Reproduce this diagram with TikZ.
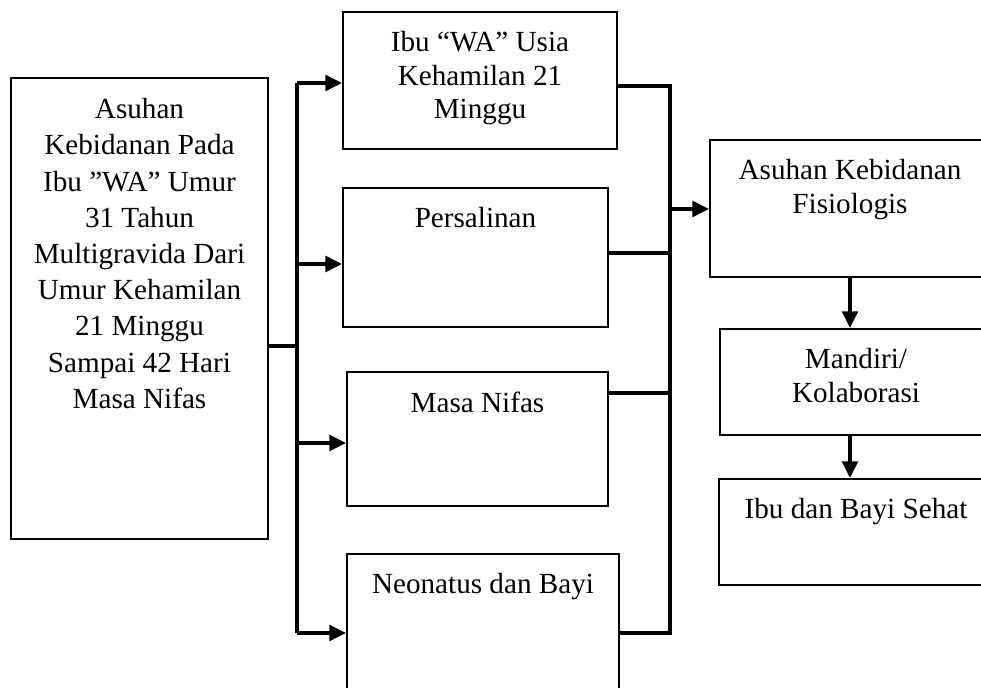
\documentclass[tikz,border=0pt]{standalone}
\usepackage{fontspec}
\setmainfont{Liberation Serif}
\usetikzlibrary{positioning,arrows.meta}

\tikzset{
  box/.style={draw, line width=1.2pt, inner sep=0pt},
  txt/.style={align=center, inner sep=0pt, font=\fontsize{16.6}{19}\selectfont},
  bus/.style={line width=1.9pt},
  arr/.style={line width=1.9pt, -{Triangle[length=9.5pt,width=9pt]}}
}

\begin{document}
\begin{tikzpicture}[x=0.02cm, y=-0.02cm]
\useasboundingbox (0,0) rectangle (981,688);
\clip (0,0) rectangle (981,688);

% kotak kiri
\node[box, minimum width=5.14cm, minimum height=9.22cm] (L) at (139.5,308.5) {};
\node[txt, font=\fontsize{16.6}{20.6}\selectfont, below=12pt of L.north] (Lt)
  {Asuhan\\Kebidanan Pada\\Ibu ”WA” Umur\\31 Tahun\\Multigravida Dari\\Umur Kehamilan\\21 Minggu\\Sampai 42 Hari\\Masa Nifas};

% kotak tengah
\node[box, minimum width=5.48cm, minimum height=2.74cm] (B1) at (480,80.5) {};
\node[txt, below=11.5pt of B1.north] (B1t) {Ibu “WA” Usia\\Kehamilan 21\\Minggu};
\node[box, minimum width=5.3cm, minimum height=2.78cm] (B2) at (475.5,257.5) {};
\node[txt, below=11.5pt of B2.north] (B2t) {Persalinan};
\node[box, minimum width=5.22cm, minimum height=2.68cm] (B3) at (477.5,439) {};
\node[txt, below=11.5pt of B3.north] (B3t) {Masa Nifas};
\node[box, minimum width=5.44cm, minimum height=3.32cm] (B4) at (483,637) {};
\node[txt, below=11.5pt of B4.north] (B4t) {Neonatus dan Bayi};

% kotak kanan
\node[box, minimum width=5.6cm, minimum height=2.74cm] (R1) at (850,208.5) {};
\node[txt, below=11.5pt of R1.north] (R1t) {Asuhan Kebidanan\\Fisiologis};
\node[box, minimum width=5.44cm, minimum height=2.12cm] (R2) at (856,382) {};
\node[txt, below=11.5pt of R2.north] (R2t) {Mandiri/\\Kolaborasi};
\node[box, minimum width=5.48cm, minimum height=2.12cm] (R3) at (856,532) {};
\node[txt, below=11.5pt of R3.north] (R3t) {Ibu dan Bayi Sehat};

% percabangan kiri
\coordinate (p0) at (297,346);
\coordinate (p1) at (297,83);
\coordinate (p2) at (297,264);
\coordinate (p3) at (297,443);
\coordinate (p4) at (297,633);
\draw[bus] (L.east |- p0) -- (p0);
\draw[bus] (p1) -- (p4);
\draw[arr] (p1) -- (p1 -| B1.west);
\draw[arr] (p2) -- (p2 -| B2.west);
\draw[arr] (p3) -- (p3 -| B3.west);
\draw[arr] (p4) -- (p4 -| B4.west);

% penggabungan kanan
\coordinate (q0) at (670,209);
\coordinate (q1) at (670,86);
\coordinate (q2) at (670,253);
\coordinate (q3) at (670,393);
\coordinate (q4) at (670,633);
\draw[bus] (B1.east |- q1) -- (q1) -- (q4) -- (B4.east |- q4);
\draw[bus] (B2.east |- q2) -- (q2);
\draw[bus] (B3.east |- q3) -- (q3);
\draw[arr] (q0) -- (q0 -| R1.west);

\draw[arr] (R1.south) -- (R1.south |- R2.north);
\draw[arr] (R1.south |- R2.south) -- (R1.south |- R3.north);

\end{tikzpicture}
\end{document}
